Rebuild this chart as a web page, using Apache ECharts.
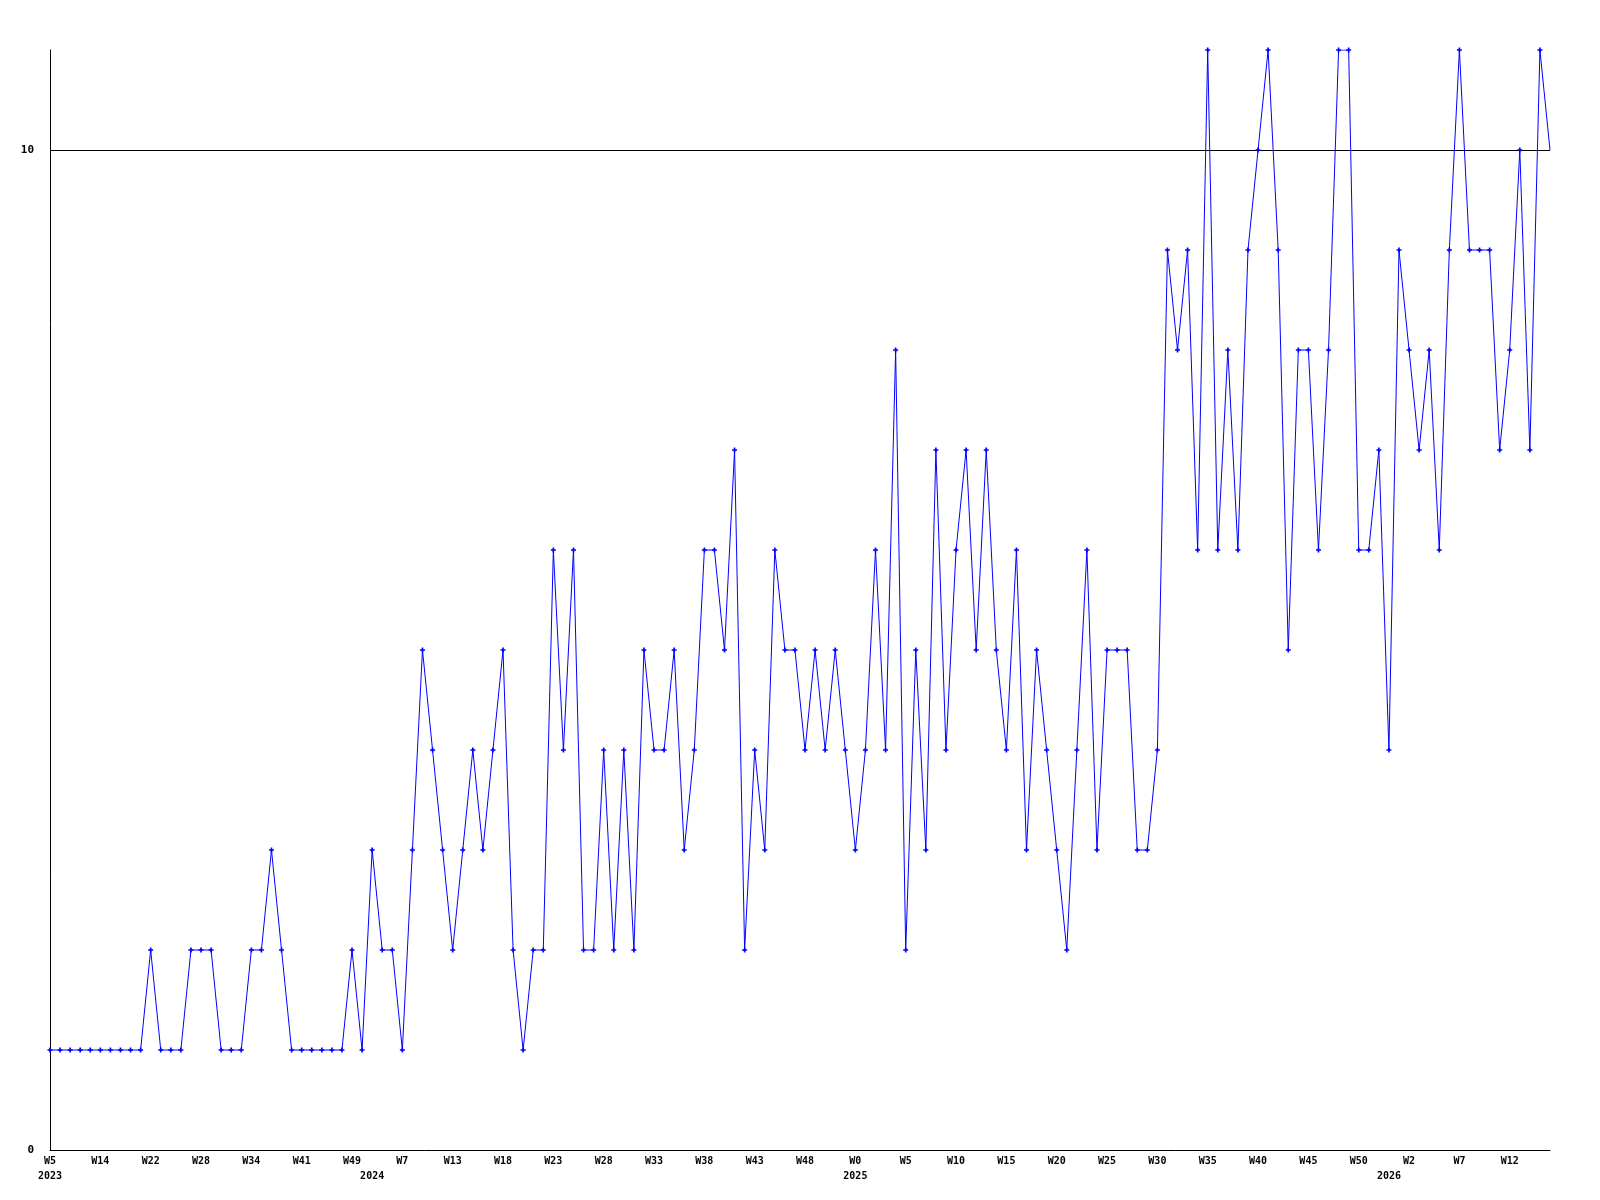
<!DOCTYPE html>
<html>
<head>
<meta charset="utf-8">
<title>weekly count</title>
<script src="https://cdn.jsdelivr.net/npm/echarts@6.0.0/dist/echarts.min.js"></script>
<style>
  html, body { margin: 0; padding: 0; background: #fff; }
  #chartDiv { width: 1600px; height: 1200px; }
</style>
</head>
<body>
<div id="chartDiv"></div>
<script>
// one value per point (150 points)
var counts = [
  1, 1, 1, 1, 1, 1, 1, 1, 1, 1,
  2, 1, 1, 1, 2, 2, 2, 1, 1, 1,
  2, 2, 3, 2, 1, 1, 1, 1, 1, 1,
  2, 1, 3, 2, 2, 1, 3, 5, 4, 3,
  2, 3, 4, 3, 4, 5, 2, 1, 2, 2,
  6, 4, 6, 2, 2, 4, 2, 4, 2, 5,
  4, 4, 5, 3, 4, 6, 6, 5, 7, 2,
  4, 3, 6, 5, 5, 4, 5, 4, 5, 4,
  3, 4, 6, 4, 8, 2, 5, 3, 7, 4,
  6, 7, 5, 7, 5, 4, 6, 3, 5, 4,
  3, 2, 4, 6, 3, 5, 5, 5, 3, 3,
  4, 9, 8, 9, 6, 11, 6, 8, 6, 9,
  10, 11, 9, 5, 8, 8, 6, 8, 11, 11,
  6, 6, 7, 4, 9, 8, 7, 8, 6, 9,
  11, 9, 9, 9, 7, 8, 10, 7, 11, 10
];

// week label shown on every 5th point
var weekLabels = ['W5', 'W14', 'W22', 'W28', 'W34', 'W41', 'W49', 'W7', 'W13', 'W18',
  'W23', 'W28', 'W33', 'W38', 'W43', 'W48', 'W0', 'W5', 'W10', 'W15',
  'W20', 'W25', 'W30', 'W35', 'W40', 'W45', 'W50', 'W2', 'W7', 'W12'];
var labelStep = 5;

// year labels and the point where each year starts
var yearNames = ['2023', '2024', '2025', '2026'];
var yearIndex = [0, 32, 80, 133];

var yTicks = [0, 10];

var cats = [];
for (var i = 0; i < counts.length; i++) {
  cats.push(String(i));
}

var plusMark = 'path://M1,0H2V1H3V2H2V3H1V2H0V1H1Z';

var labelFont = {
  fontFamily: 'DejaVu Sans Mono',
  fontWeight: 'bold',
  color: '#000'
};

var chart = echarts.init(document.getElementById('chartDiv'), null, { renderer: 'canvas' });

var option = {
  backgroundColor: '#ffffff',
  animation: false,
  grid: {
    left: 50,
    right: 50,
    top: 50,
    bottom: 50,
    containLabel: false
  },
  xAxis: [
    {
      type: 'category',
      data: cats,
      boundaryGap: false,
      axisLine: { show: true, lineStyle: { color: '#000', width: 1 } },
      axisTick: { show: false },
      splitLine: { show: false },
      axisLabel: Object.assign({
        fontSize: 10,
        margin: 6,
        hideOverlap: false,
        interval: function (idx) { return idx % labelStep === 0; },
        formatter: function (val, idx) {
          var k = idx / labelStep;
          return weekLabels[k] || '';
        }
      }, labelFont)
    },
    {
      type: 'category',
      data: cats,
      position: 'bottom',
      boundaryGap: false,
      axisLine: { show: false },
      axisTick: { show: false },
      splitLine: { show: false },
      axisLabel: Object.assign({
        fontSize: 10,
        margin: 21,
        hideOverlap: false,
        interval: function (idx) { return yearIndex.indexOf(idx) >= 0; },
        formatter: function (val, idx) {
          var k = yearIndex.indexOf(idx);
          return k >= 0 ? yearNames[k] : '';
        }
      }, labelFont)
    }
  ],
  yAxis: {
    type: 'value',
    min: yTicks[0],
    max: 11,
    interval: yTicks[1] - yTicks[0],
    axisLine: { show: true, lineStyle: { color: '#000', width: 1 } },
    axisTick: { show: false },
    axisLabel: Object.assign({
      fontSize: 11,
      margin: 16,
      showMaxLabel: false
    }, labelFont),
    splitLine: {
      show: true,
      showMinLine: false,
      showMaxLine: false,
      lineStyle: { color: '#000', width: 1 }
    }
  },
  series: [
    {
      name: 'count',
      type: 'line',
      data: counts,
      xAxisIndex: 0,
      // last (current) week has no marker in the original
      symbol: function (value, params) {
        return params.dataIndex === counts.length - 1 ? 'none' : plusMark;
      },
      symbolSize: 5,
      showSymbol: true,
      itemStyle: { color: '#0000ff' },
      lineStyle: { color: '#0000ff', width: 1 }
    }
  ]
};

chart.setOption(option);
</script>
</body>
</html>
